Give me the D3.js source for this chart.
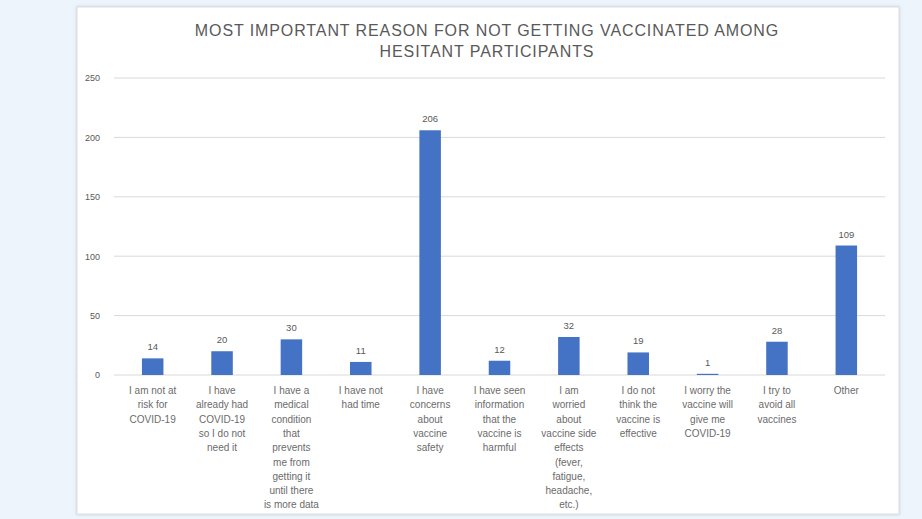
<!DOCTYPE html>
<html>
<head>
<meta charset="utf-8">
<script src="https://cdn.jsdelivr.net/npm/d3@7"></script>
<style>
  body { margin: 0; background: #eef4fc; }
  text { font-family: "Liberation Sans", Arial, sans-serif; fill: #595959; }
</style>
</head>
<body>
<script>
const width = 922;
const height = 519;

// data
const categories = [
  ['I am not at', 'risk for', 'COVID-19'],
  ['I have', 'already had', 'COVID-19', 'so I do not', 'need it'],
  ['I have a', 'medical', 'condition', 'that', 'prevents', 'me from', 'getting it', 'until there', 'is more data'],
  ['I have not', 'had time'],
  ['I have', 'concerns', 'about', 'vaccine', 'safety'],
  ['I have seen', 'information', 'that the', 'vaccine is', 'harmful'],
  ['I am', 'worried', 'about', 'vaccine side', 'effects', '(fever,', 'fatigue,', 'headache,', 'etc.)'],
  ['I do not', 'think the', 'vaccine is', 'effective'],
  ['I worry the', 'vaccine will', 'give me', 'COVID-19'],
  ['I try to', 'avoid all', 'vaccines'],
  ['Other']
];
const values = [14, 20, 30, 11, 206, 12, 32, 19, 1, 28, 109];
const yTicks = [0, 50, 100, 150, 200, 250];
const titleLines = ['MOST IMPORTANT REASON FOR NOT GETTING VACCINATED AMONG', 'HESITANT PARTICIPANTS'];

const svg = d3.select('body').append('svg').attr('width', width).attr('height', height);

// card
const defs = svg.append('defs');
const f = defs.append('filter').attr('id', 'sh').attr('x', '-5%').attr('y', '-5%').attr('width', '110%').attr('height', '110%');
f.append('feDropShadow').attr('dx', 0).attr('dy', 0).attr('stdDeviation', 1.5).attr('flood-color', '#9aa4b0').attr('flood-opacity', 0.5);

svg.append('rect')
  .attr('x', 77).attr('y', 7).attr('width', 822).attr('height', 507)
  .attr('fill', '#fff').attr('stroke', '#dcdfe3').attr('filter', 'url(#sh)');

const margin = {left: 118, right: 41, top: 78, bottom: 144};

const x = d3.scaleBand()
  .domain(d3.range(categories.length))
  .range([margin.left, width - margin.right])
  .paddingInner(0.69)
  .paddingOuter(0.345);

const y = d3.scaleLinear()
  .domain([0, 250])
  .range([height - margin.bottom, margin.top]);

// grid
svg.append('g')
  .selectAll('line')
  .data(yTicks)
  .enter()
  .append('line')
  .attr('x1', 114).attr('x2', 885)
  .attr('y1', d => y(d)).attr('y2', d => y(d))
  .attr('stroke', '#d9d9d9').attr('stroke-width', 1);

// y axis labels
const yAxis = svg.append('g')
  .attr('transform', `translate(104,0)`)
  .call(d3.axisLeft(y).tickValues(yTicks).tickSize(0).tickPadding(4));
yAxis.select('.domain').remove();
yAxis.selectAll('text').attr('font-size', 9).style('font-family', '"Liberation Sans", Arial, sans-serif').attr('fill', '#6b6b6b');

// bars
svg.append('g')
  .selectAll('rect')
  .data(values)
  .enter()
  .append('rect')
  .attr('x', (d, i) => x(i))
  .attr('y', d => y(d))
  .attr('width', x.bandwidth())
  .attr('height', d => y(0) - y(d))
  .attr('fill', '#4472c4');

// value labels
svg.append('g')
  .selectAll('text')
  .data(values)
  .enter()
  .append('text')
  .attr('x', (d, i) => x(i) + x.bandwidth() / 2)
  .attr('y', d => y(d) - 8)
  .attr('text-anchor', 'middle')
  .attr('font-size', 9.5)
  .text(d => d);

// category labels
const cat = svg.append('g')
  .selectAll('text')
  .data(categories)
  .enter()
  .append('text')
  .attr('text-anchor', 'middle')
  .attr('font-size', 10)
  .style('fill', '#6b6b6b');
cat.selectAll('tspan')
  .data((d, i) => d.map(t => ({t, i})))
  .enter()
  .append('tspan')
  .attr('x', d => x(d.i) + x.bandwidth() / 2)
  .attr('y', (d, j) => 394 + j * 14.3)
  .text(d => d.t);

// title
svg.append('text')
  .attr('text-anchor', 'middle')
  .attr('font-size', 16)
  .attr('letter-spacing', 0.9)
  .selectAll('tspan')
  .data(titleLines)
  .enter()
  .append('tspan')
  .attr('x', 487)
  .attr('y', (d, i) => 36 + i * 21)
  .text(d => d);
</script>
</body>
</html>
